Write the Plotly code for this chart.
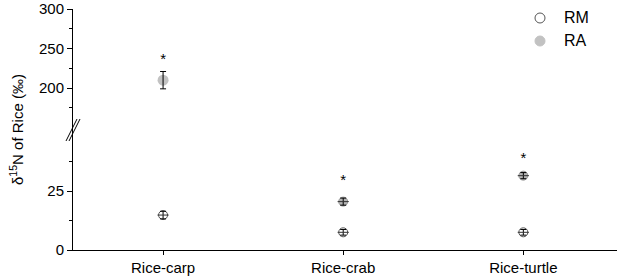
import plotly.graph_objects as go

categories = ["Rice-carp", "Rice-crab", "Rice-turtle"]
rm_values = [14.8, 7.5, 7.5]
rm_errors = [1.6, 1.2, 1.2]
ra_values = [210.0, 20.5, 31.5]
ra_errors = [11.0, 1.5, 1.3]
star_y = [235.0, 29.0, 38.5]
legend_names = ["RM", "RA"]

lower_ticks = [0, 25]
lower_minor = [12.5, 37.5]
upper_ticks = [200, 250, 300]
upper_minor = [175, 225, 275]

OFF = 0  # body margin removed via post_script
W, H = 617 - OFF, 280 - OFF
# reference page pixels: plot left 73, top 9, bottom 250, right 617
ML, MT = 73 - OFF, 9 - OFF
MB = 280 - 250
MR = 0
PW, PH = W - ML - MR, H - MT - MB
BREAK_PX = 130 - OFF
d = (H - MB - BREAK_PX) / PH
lower_top = (H - MB - BREAK_PX) / 2.36
upper_bot = 300 - (BREAK_PX - MT) / 0.79


def px_x(p):
    return (p - OFF - ML) / PW


def px_y(p):
    return (H - MB - (p - OFF)) / PH


xi = [0, 1, 2]
fig = go.Figure()

err = dict(type="data", thickness=1, width=3, color="black")
GREY = "#c2c2c2"

# RM markers (lower panel)
fig.add_trace(go.Scatter(x=xi, y=rm_values, mode="markers", showlegend=False,
    marker=dict(size=9, color="white", line=dict(color="#555", width=1)),
    xaxis="x", yaxis="y"))
# RA markers
fig.add_trace(go.Scatter(x=[xi[0]], y=[ra_values[0]], mode="markers", showlegend=False,
    marker=dict(size=11, color=GREY, line=dict(width=0)),
    xaxis="x", yaxis="y2"))
fig.add_trace(go.Scatter(x=xi[1:], y=ra_values[1:], mode="markers", showlegend=False,
    marker=dict(size=9, color="#b5b5b5", line=dict(color="#999", width=1)),
    xaxis="x", yaxis="y"))

# error bar overlays drawn on top of markers
fig.add_trace(go.Scatter(x=xi, y=rm_values, mode="markers", showlegend=False,
    error_y=dict(array=rm_errors, **err),
    marker=dict(symbol="line-ew-open", size=8, color="#333", line=dict(color="#333", width=1)),
    xaxis="x", yaxis="y"))
fig.add_trace(go.Scatter(x=xi[1:], y=ra_values[1:], mode="markers", showlegend=False,
    error_y=dict(array=ra_errors[1:], **err),
    marker=dict(symbol="line-ew-open", size=8, color="#333", line=dict(color="#333", width=1)),
    xaxis="x", yaxis="y"))
fig.add_trace(go.Scatter(x=[xi[0]], y=[ra_values[0]], mode="markers", showlegend=False,
    error_y=dict(array=[ra_errors[0]], **err),
    marker=dict(size=1, color="rgba(0,0,0,0)"),
    xaxis="x", yaxis="y2"))

# asterisks
fig.add_trace(go.Scatter(x=[xi[0]], y=[star_y[0]], mode="text", text=["*"], showlegend=False,
    textfont=dict(size=15, color="black", family="Liberation Sans"), xaxis="x", yaxis="y2"))
fig.add_trace(go.Scatter(x=xi[1:], y=star_y[1:], mode="text", text=["*", "*"], showlegend=False,
    textfont=dict(size=15, color="black", family="Liberation Sans"), xaxis="x", yaxis="y"))

shapes = []
# axis break marks
for dx in (0, 3):
    shapes.append(dict(type="line", xref="paper", yref="paper",
        x0=px_x(66 + dx), y0=px_y(141), x1=px_x(77 + dx), y1=px_y(119),
        line=dict(color="black", width=1)))

# manual legend
leg_styles = [dict(fillcolor="white", line=dict(color="#555", width=1)),
              dict(fillcolor=GREY, line=dict(color=GREY, width=1))]
leg_rows = [18, 41]
annotations = []
for name, row, st in zip(legend_names, leg_rows, leg_styles):
    r = 5
    shapes.append(dict(type="circle", xref="paper", yref="paper",
        x0=px_x(540 - r), x1=px_x(540 + r), y0=px_y(row + r), y1=px_y(row - r), **st))
    annotations.append(dict(text=name, xref="paper", yref="paper",
        x=px_x(562), y=px_y(row), xanchor="left", yanchor="middle",
        showarrow=False, font=dict(size=16)))

annotations.append(dict(text="δ<sup>15</sup>N of Rice (‰)", xref="paper", yref="paper",
    x=px_x(16), y=px_y(130), xanchor="center", yanchor="middle",
    textangle=-90, showarrow=False, font=dict(size=15)))

fig.update_layout(
    width=W, height=H, margin=dict(l=ML, r=MR, t=MT, b=MB, pad=0),
    paper_bgcolor="white", plot_bgcolor="white", showlegend=False,
    font=dict(family="Liberation Sans, Arial", size=15, color="black"),
    xaxis=dict(range=[-0.5, 2.52], tickvals=xi, ticktext=categories,
        showline=True, linecolor="black", linewidth=1, ticks="outside", ticklen=4,
        tickcolor="black", showgrid=False, zeroline=False, anchor="y",
        tickfont=dict(size=15)),
    yaxis=dict(domain=[0, d], range=[0, lower_top], tickvals=lower_ticks,
        showline=True, linecolor="black", linewidth=1, ticks="outside", ticklen=5,
        tickcolor="black", showgrid=False, zeroline=False, anchor="x",
        minor=dict(tickvals=lower_minor, ticks="outside", ticklen=3, tickcolor="black"),
        tickfont=dict(size=15)),
    yaxis2=dict(domain=[d, 1], range=[upper_bot, 300.2], tickvals=upper_ticks,
        showline=True, linecolor="black", linewidth=1, ticks="outside", ticklen=5,
        tickcolor="black", showgrid=False, zeroline=False, anchor="x",
        minor=dict(tickvals=upper_minor, ticks="outside", ticklen=3, tickcolor="black"),
        tickfont=dict(size=15)),
    shapes=shapes,
    annotations=annotations,
)

fig.write_html("out.html", config={"displayModeBar": False},
               post_script="document.body.style.margin='0';document.body.style.padding='0';")
